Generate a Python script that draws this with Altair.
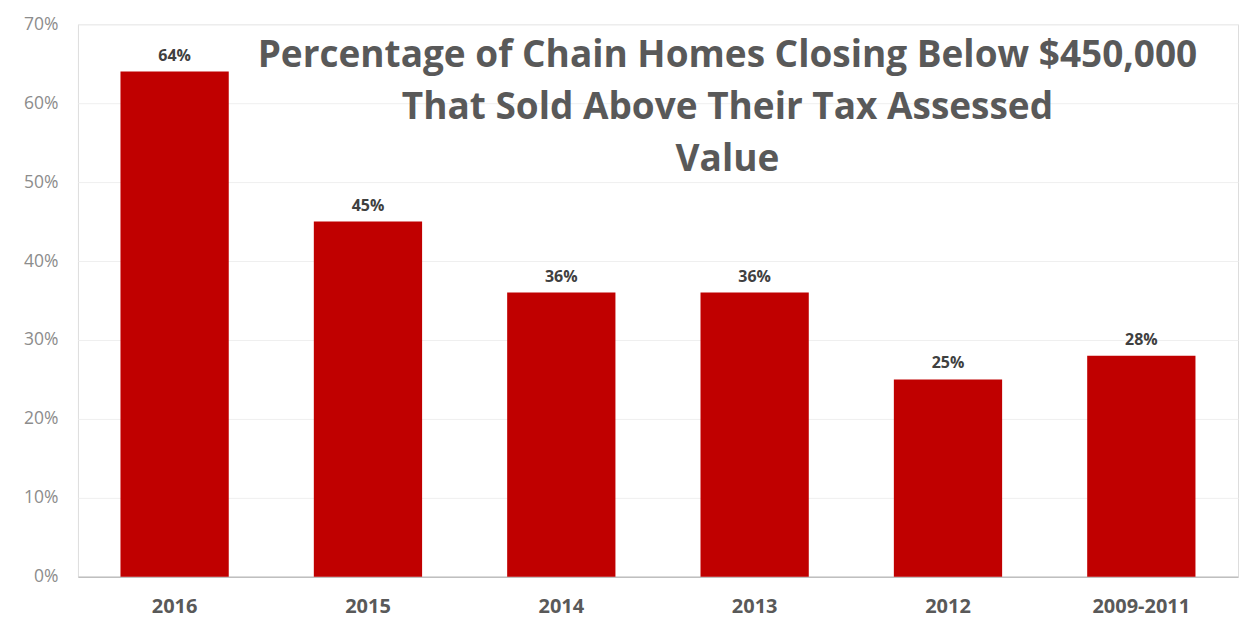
import altair as alt
import pandas as pd

categories = ["2016", "2015", "2014", "2013", "2012", "2009-2011"]
values = [0.64, 0.45, 0.36, 0.36, 0.25, 0.28]
title_lines = ["Percentage of Chain Homes Closing Below $450,000",
               "That Sold Above Their Tax Assessed",
               "Value"]

df = pd.DataFrame({"period": categories, "share": values})

FONT = "Open Sans"
W, H = 1161, 553

base = alt.Chart(df).encode(
    x=alt.X("period:N", sort=categories,
            scale=alt.Scale(paddingInner=0.44, paddingOuter=0.22),
            axis=alt.Axis(title=None, labelAngle=0, labelFont=FONT, labelFontSize=20,
                          labelFontWeight="bold", labelColor="#595959", labelPadding=20,
                          ticks=False, domainColor="#bfbfbf", domainWidth=1.5, grid=False)),
    y=alt.Y("share:Q",
            scale=alt.Scale(domain=[0, 0.7], nice=False),
            axis=alt.Axis(title=None, format=".0%", values=[0, 0.1, 0.2, 0.3, 0.4, 0.5, 0.6, 0.7],
                          labelFont=FONT, labelFontSize=17.5, labelColor="#8c8c8c",
                          labelPadding=20, ticks=False, domain=False,
                          gridColor="#efefef", gridWidth=1)),
)

bars = base.mark_bar(color="#C00000")
labels = base.mark_text(dy=-11, font=FONT, fontSize=16, fontWeight="bold",
                        color="#404040", baseline="alphabetic").encode(
    text=alt.Text("share:Q", format=".0%"))

title = alt.Chart(pd.DataFrame({"t": [0]})).mark_text(
    text=title_lines, font=FONT, fontSize=37, fontWeight="bold", color="#595959",
    align="center", baseline="top", lineHeight=52
).encode(x=alt.value(650), y=alt.value(14))

chart = alt.layer(bars, labels, title).properties(
    width=W, height=H,
    autosize=alt.AutoSizeParams(type="none"),
    padding={"left": 70, "top": 16, "right": 2, "bottom": 46},
).configure_view(stroke=None).configure(background="white")

chart.save("out.html", embed_options={"renderer": "svg", "actions": False})
